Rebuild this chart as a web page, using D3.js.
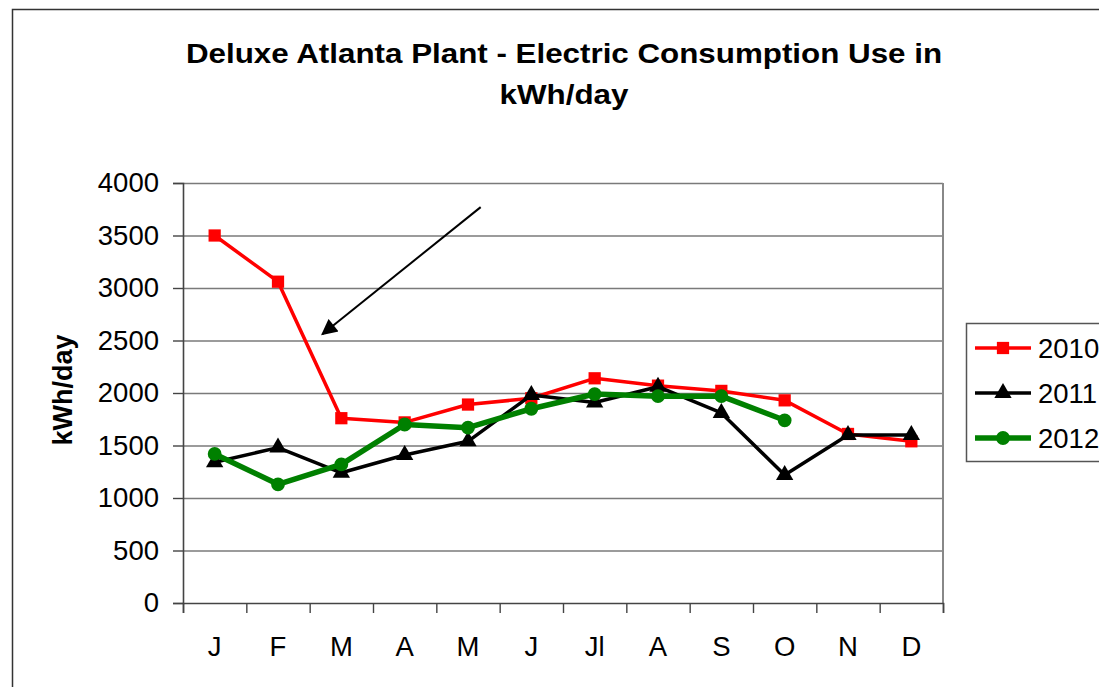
<!DOCTYPE html>
<html>
<head>
<meta charset="utf-8">
<script src="https://cdn.jsdelivr.net/npm/d3@7"></script>
<style>
  body { margin: 0; background: #fff; }
  svg { display: block; font-family: "Liberation Sans", Arial, sans-serif; }
</style>
</head>
<body>
<div id="chart"></div>
<script>
// data
const months = ["J", "F", "M", "A", "M ", "J ", "Jl", "A ", "S", "O", "N", "D"];
const monthLabels = ["J", "F", "M", "A", "M", "J", "Jl", "A", "S", "O", "N", "D"];
const yTicks = [0, 500, 1000, 1500, 2000, 2500, 3000, 3500, 4000];
const v2010 = [3500, 3060, 1760, 1720, 1890, 1950, 2140, 2070, 2020, 1930, 1610, 1540];
const v2011 = [1340, 1480, 1240, 1410, 1540, 1980, 1910, 2060, 1810, 1220, 1600, 1600];
const v2012 = [1420, 1130, 1320, 1700, 1670, 1850, 1990, 1970, 1970, 1740];
// arrow annotation in data units (month index, kWh/day)
const arrowFrom = [4.2, 3770];
const arrowTo = [1.7, 2560];

const width = 1099, height = 687;
const margin = { left: 183, right: 156, top: 183, bottom: 84 };
const plotW = width - margin.left - margin.right;
const plotH = height - margin.top - margin.bottom;

const svg = d3.select("#chart").append("svg")
    .attr("width", width)
    .attr("height", height);

// outer frame
svg.append("rect")
    .attr("x", 12.5).attr("y", 9.5)
    .attr("width", width + 20).attr("height", height + 20)
    .attr("fill", "none").attr("stroke", "#333").attr("stroke-width", 1.5);

// title (the original is a bit wider than Liberation Sans, so stretch it)
const title = svg.append("text")
    .attr("transform", "translate(564,0) scale(1.1,1)")
    .attr("text-anchor", "middle")
    .attr("font-weight", "bold")
    .attr("font-size", 28.5);
title.append("tspan").attr("x", 0).attr("y", 63).text("Deluxe Atlanta Plant - Electric Consumption Use in");
title.append("tspan").attr("x", 0).attr("y", 104).text("kWh/day");

const g = svg.append("g").attr("transform", `translate(${margin.left},${margin.top})`);

const x = d3.scaleBand().domain(months).range([0, plotW]);
const xi = d3.scaleLinear().domain([0, 12]).range([0, plotW]);
const y = d3.scaleLinear().domain([0, 4000]).range([plotH, 0]);

// gridlines
g.append("g")
    .call(d3.axisLeft(y).tickValues(yTicks.slice(1)).tickSize(-plotW).tickFormat(""))
    .call(s => s.select(".domain").remove())
    .call(s => s.selectAll("line").attr("stroke", "#7a7a7a").attr("stroke-width", 1.6));

// right border of the plot area
g.append("line")
    .attr("x1", plotW).attr("x2", plotW).attr("y1", 0).attr("y2", plotH)
    .attr("stroke", "#888").attr("stroke-width", 2);

// y axis
g.append("g")
    .call(d3.axisLeft(y).tickValues(yTicks).tickSize(10).tickPadding(14).tickFormat(d3.format("d")))
    .call(s => s.select(".domain").attr("stroke", "#444").attr("stroke-width", 1.6))
    .call(s => s.selectAll("line").attr("stroke", "#444").attr("stroke-width", 1.4))
    .call(s => s.selectAll("text").attr("font-size", 27.5).attr("fill", "#000")
        .attr("font-family", "Liberation Sans, Arial, sans-serif"));

// x axis: tick marks between months
g.append("g")
    .attr("transform", `translate(0,${plotH})`)
    .call(d3.axisBottom(xi).ticks(12).tickSize(10).tickFormat(""))
    .call(s => s.select(".domain").attr("stroke", "#444").attr("stroke-width", 1.6))
    .call(s => s.selectAll("line").attr("stroke", "#444").attr("stroke-width", 1.4));

// x axis labels at month centres
g.append("g")
    .attr("transform", `translate(0,${plotH})`)
    .call(d3.axisBottom(x).tickSize(0).tickPadding(33).tickFormat((d, i) => monthLabels[i]))
    .call(s => s.select(".domain").remove())
    .call(s => s.selectAll("text").attr("font-size", 27.5).attr("fill", "#000")
        .attr("font-family", "Liberation Sans, Arial, sans-serif"));

// y axis title
svg.append("text")
    .attr("transform", "translate(72,390) rotate(-90)")
    .attr("text-anchor", "middle")
    .attr("font-weight", "bold")
    .attr("font-size", 27)
    .text("kWh/day");

const cx = (d, i) => x(months[i]) + x.bandwidth() / 2;
const line = d3.line().x(cx).y(d => y(d));

const series = [
  { name: "2010", values: v2010, color: "#ff0000", width: 3.5, marker: "square" },
  { name: "2011", values: v2011, color: "#000000", width: 3.5, marker: "triangle" },
  { name: "2012", values: v2012, color: "#008000", width: 5.5, marker: "circle" }
];

const symbolOf = {
  square: d3.symbol().type(d3.symbolSquare).size(150),
  triangle: d3.symbol().type(d3.symbolTriangle).size(130),
  circle: d3.symbol().type(d3.symbolCircle).size(150)
};

series.forEach(s => {
  g.append("path")
      .datum(s.values)
      .attr("d", line)
      .attr("fill", "none")
      .attr("stroke", s.color)
      .attr("stroke-width", s.width)
      .attr("stroke-linejoin", "round");
  g.selectAll(null)
      .data(s.values)
      .enter().append("path")
      .attr("d", symbolOf[s.marker])
      .attr("transform", (d, i) => `translate(${cx(d, i)},${y(d)})`)
      .attr("fill", s.color);
});

// arrow annotation
svg.append("defs").append("marker")
    .attr("id", "head")
    .attr("viewBox", "0 0 10 10")
    .attr("refX", 9).attr("refY", 5)
    .attr("markerWidth", 9).attr("markerHeight", 8)
    .attr("markerUnits", "strokeWidth")
    .attr("orient", "auto")
  .append("path")
    .attr("d", "M0,0 L10,5 L0,10 z")
    .attr("fill", "#000");

const ax = v => xi(v + 0.5);
g.append("line")
    .attr("x1", ax(arrowFrom[0])).attr("y1", y(arrowFrom[1]))
    .attr("x2", ax(arrowTo[0])).attr("y2", y(arrowTo[1]))
    .attr("stroke", "#000").attr("stroke-width", 2)
    .attr("marker-end", "url(#head)");

// legend
const legend = svg.append("g").attr("transform", "translate(966,323)");
legend.append("rect")
    .attr("x", 0.5).attr("y", 0.5).attr("width", 200).attr("height", 138)
    .attr("fill", "#fff").attr("stroke", "#555").attr("stroke-width", 1.5);
series.forEach((s, i) => {
  const ly = 25 + i * 45;
  legend.append("line")
      .attr("x1", 9).attr("x2", 65).attr("y1", ly).attr("y2", ly)
      .attr("stroke", s.color).attr("stroke-width", s.width);
  legend.append("path")
      .attr("d", symbolOf[s.marker])
      .attr("transform", `translate(37,${ly})`)
      .attr("fill", s.color);
  legend.append("text")
      .attr("x", 72).attr("y", ly + 10)
      .attr("font-size", 27.5)
      .text(s.name);
});
</script>
</body>
</html>
